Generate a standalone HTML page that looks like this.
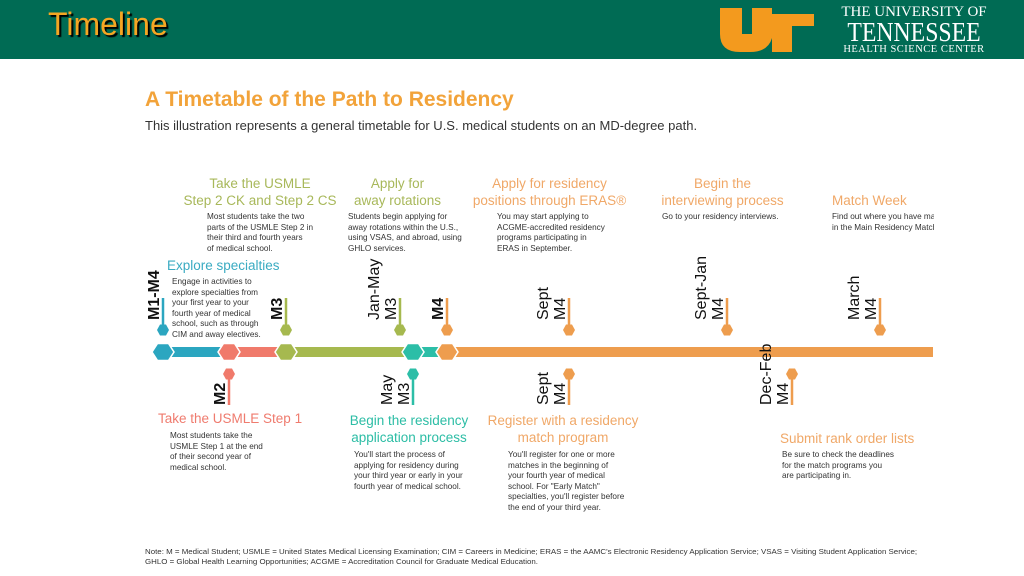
<!DOCTYPE html>
<html><head><meta charset="utf-8"><style>
body{margin:0;width:1024px;height:576px;overflow:hidden;background:#fff;font-family:"Liberation Sans",sans-serif;position:relative}
.a{position:absolute}
.h{font-size:13.5px;text-align:center;line-height:17px;white-space:nowrap}
.d{font-size:8.2px;color:#333;line-height:10.5px;white-space:nowrap}
</style></head><body>
<div class="a" style="left:0;top:0;width:1024px;height:59px;background:#006b54"></div>
<div class="a" style="left:48px;top:6px;font-size:32px;color:#f5a623;text-shadow:2px 2px 1px #000">Timeline</div>
<div class="a" style="left:720px;top:8px;width:94px;height:44px">
<svg width="94" height="44"><path d="M0 0h22v26h10V0h20v6h42v12H72v26H52V30Q48 44 30 44H20Q0 44 0 26Z" fill="#f39a1e"/></svg></div>
<div class="a" style="left:820px;top:5px;color:#fff;font-family:'Liberation Serif',serif;text-align:center;width:188px">
<div style="font-size:15px;line-height:15px">THE UNIVERSITY OF</div>
<div style="font-size:27px;line-height:24px;transform:scaleX(0.88)">TENNESSEE</div>
<div style="font-size:10.5px;line-height:12px;letter-spacing:.5px">HEALTH SCIENCE CENTER</div></div>
<div class="a" style="left:145px;top:88px;font-size:21px;font-weight:bold;color:#f2a33a">A Timetable of the Path to Residency</div>
<div class="a" style="left:145px;top:118px;font-size:13px;color:#333">This illustration represents a general timetable for U.S. medical students on an MD-degree path.</div>

<svg class="a" id="tl" style="left:0;top:0" width="1024" height="576"></svg>

<div class="a h" style="left:180px;top:175px;width:160px;color:#a8b85a">Take the USMLE<br>Step 2 CK and Step 2 CS</div>
<div class="a d" style="left:207px;top:212px">Most students take the two<br>parts of the USMLE Step 2 in<br>their third and fourth years<br>of medical school.</div>
<div class="a h" style="left:345px;top:175px;width:105px;color:#a8b85a">Apply for<br>away rotations</div>
<div class="a d" style="left:348px;top:212px">Students begin applying for<br>away rotations within the U.S.,<br>using VSAS, and abroad, using<br>GHLO services.</div>
<div class="a h" style="left:472px;top:175px;width:155px;color:#f0a868">Apply for residency<br>positions through ERAS®</div>
<div class="a d" style="left:497px;top:212px">You may start applying to<br>ACGME-accredited residency<br>programs participating in<br>ERAS in September.</div>
<div class="a h" style="left:650px;top:175px;width:145px;color:#f0a868">Begin the<br>interviewing process</div>
<div class="a d" style="left:662px;top:212px">Go to your residency interviews.</div>
<div class="a h" style="left:832px;top:192px;color:#f0a868;text-align:left">Match Week</div>
<div class="a d" style="left:832px;top:212px;width:102px;overflow:hidden">Find out where you have matched<br>in the Main Residency Match.</div>
<div class="a h" style="left:167px;top:257px;color:#3aabc2;text-align:left">Explore specialties</div>
<div class="a d" style="left:172px;top:277px">Engage in activities to<br>explore specialties from<br>your first year to your<br>fourth year of medical<br>school, such as through<br>CIM and away electives.</div>

<div class="a h" style="left:158px;top:410px;color:#ef7b6e;text-align:left">Take the USMLE Step 1</div>
<div class="a d" style="left:170px;top:431px">Most students take the<br>USMLE Step 1 at the end<br>of their second year of<br>medical school.</div>
<div class="a h" style="left:340px;top:412px;width:138px;color:#2cbda5">Begin the residency<br>application process</div>
<div class="a d" style="left:354px;top:450px">You'll start the process of<br>applying for residency during<br>your third year or early in your<br>fourth year of medical school.</div>
<div class="a h" style="left:484px;top:412px;width:158px;color:#f0a868">Register with a residency<br>match program</div>
<div class="a d" style="left:508px;top:450px">You'll register for one or more<br>matches in the beginning of<br>your fourth year of medical<br>school. For "Early Match"<br>specialties, you'll register before<br>the end of your third year.</div>
<div class="a h" style="left:780px;top:430px;color:#f0a868;text-align:left">Submit rank order lists</div>
<div class="a d" style="left:782px;top:450px">Be sure to check the deadlines<br>for the match programs you<br>are participating in.</div>

<div class="a" style="left:145px;top:547px;font-size:7.4px;color:#333;line-height:10px;white-space:nowrap;transform:scaleX(1.07);transform-origin:0 0">Note: M = Medical Student; USMLE = United States Medical Licensing Examination; CIM = Careers in Medicine; ERAS = the AAMC's Electronic Residency Application Service; VSAS = Visiting Student Application Service;<br>GHLO = Global Health Learning Opportunities; ACGME = Accreditation Council for Graduate Medical Education.</div>

<script>
const segStarts=[163,229,286,413,447];
const segEnds=[229,286,413,447,933];
const segColors=['#2ba6c0','#f07a6b','#a6b94f','#2cbea7','#ee9d4e'];
const pinX=[163,286,400,447,569,727,880,229,413,569,792];
const pinSide=['up','up','up','up','up','up','up','down','down','down','down'];
const pinLine1=['M1-M4','M3','Jan-May','M4','Sept','Sept-Jan','March','M2','May','Sept','Dec-Feb'];
const pinLine2=['','','M3','','M4','M4','M4','','M3','M4','M4'];
const pinBold=[1,1,0,1,0,0,0,1,0,0,0];
const pinColors=['#2ba6c0','#a6b94f','#a6b94f','#ee9d4e','#ee9d4e','#ee9d4e','#ee9d4e','#f07a6b','#2cbea7','#ee9d4e','#ee9d4e'];
const NS='http://www.w3.org/2000/svg',svg=document.getElementById('tl'),Y=352;
function mk(t,a){const e=document.createElementNS(NS,t);for(const k in a)e.setAttribute(k,a[k]);svg.appendChild(e);return e;}
function hex(cx,cy,w,h,c){return mk('polygon',{points:[[cx-w/2,cy],[cx-w/4,cy-h/2],[cx+w/4,cy-h/2],[cx+w/2,cy],[cx+w/4,cy+h/2],[cx-w/4,cy+h/2]].map(p=>p.join(',')).join(' '),fill:c,stroke:'#fff','stroke-width':1.5});}
segStarts.forEach((s,i)=>{
const r=mk('rect',{x:s,y:Y-5,width:segEnds[i]-s,height:10,fill:segColors[i]});


});
segStarts.forEach((s,i)=>{
const h=hex(s,Y,22,17,segColors[i]);


});
pinX.forEach((x,i)=>{
const up=pinSide[i]==='up',dy=up?330:374,ly1=up?298:374,ly2=up?330:405;
const l=mk('line',{x1:x,x2:x,y1:ly1,y2:ly2,stroke:pinColors[i],'stroke-width':2.5});


const d=hex(x,dy,12,11,pinColors[i]);d.setAttribute('stroke','none');


const by=up?320:405,lines=pinLine2[i]?[pinLine1[i],pinLine2[i]]:[pinLine1[i]];
lines.forEach((t,j)=>{
const tx=x-4-(lines.length-1-j)*17;
const te=mk('text',{x:0,y:0,transform:`translate(${tx},${by}) rotate(-90)`,'font-size':16,'font-weight':pinBold[i]?'bold':'normal',fill:'#111','font-family':'Liberation Sans, sans-serif'});
te.textContent=t;


});
});
</script>
</body></html>
